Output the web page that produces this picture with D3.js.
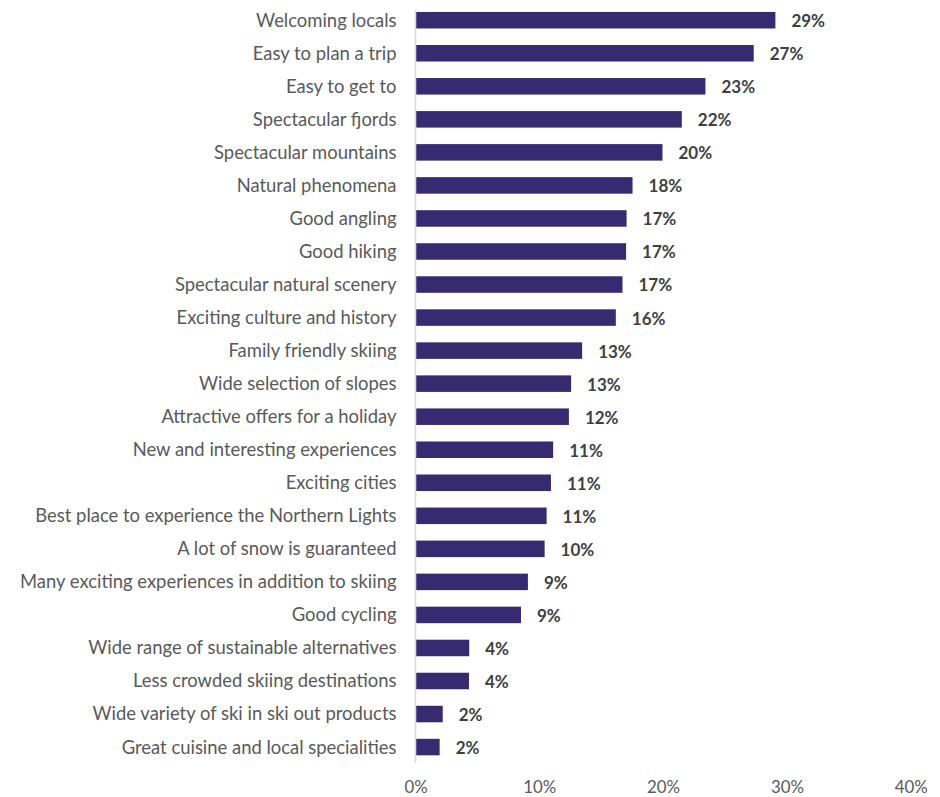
<!DOCTYPE html>
<html>
<head>
<meta charset="utf-8">
<script src="https://cdn.jsdelivr.net/npm/d3@7"></script>
<style>
  html, body { margin: 0; padding: 0; background: #ffffff; }
  svg { display: block; }
</style>
</head>
<body>
<svg id="chart" width="940" height="797"></svg>
<script>
const categories = [
  "Welcoming locals",
  "Easy to plan a trip",
  "Easy to get to",
  "Spectacular fjords",
  "Spectacular mountains",
  "Natural phenomena",
  "Good angling",
  "Good hiking",
  "Spectacular natural scenery",
  "Exciting culture and history",
  "Family friendly skiing",
  "Wide selection of slopes",
  "Attractive offers for a holiday",
  "New and interesting experiences",
  "Exciting cities",
  "Best place to experience the Northern Lights",
  "A lot of snow is guaranteed",
  "Many exciting experiences in addition to skiing",
  "Good cycling",
  "Wide range of sustainable alternatives",
  "Less crowded skiing destinations",
  "Wide variety of ski in ski out products",
  "Great cuisine and local specialities"
];
const values = [
  29.07, 27.32, 23.42, 21.51, 19.95, 17.53, 17.05, 17.01, 16.72, 16.18,
  13.46, 12.57, 12.39, 11.12, 10.94, 10.59, 10.43, 9.08, 8.52, 4.34,
  4.32, 2.20, 1.95
];
const xTicks = [0, 10, 20, 30, 40];

const FONT = "Lato, 'Open Sans', sans-serif";
const svg = d3.select("#chart");

// fit font sizes so text widths resemble the reference
function fitSize(text, weight, targetWidth) {
  const t = svg.append("text").attr("font-family", FONT).attr("font-weight", weight)
    .attr("font-size", 100).text(text);
  const w = t.node().getComputedTextLength();
  t.remove();
  return 100 * targetWidth / w;
}
const catSize = fitSize("Welcoming locals", 400, 140.5);
const valSize = fitSize("27%", 700, 33.7);
const tickSize = fitSize("20%", 400, 33);

const x0 = 415.5, x40 = 910.7;
const x = d3.scaleLinear().domain([0, 40]).range([x0, x40]);
const y = d3.scaleBand().domain(categories).range([3.7, 763.6]).paddingInner(0.5).paddingOuter(0.25);

// axis line (vertical, light gray)
svg.append("line")
  .attr("x1", x(0)).attr("x2", x(0))
  .attr("y1", 10).attr("y2", 763)
  .attr("stroke", "#d9d9d9").attr("stroke-width", 1.5);

// bars
svg.append("g").selectAll("rect").data(values).join("rect")
  .attr("x", x(0) + 0.75)
  .attr("y", (d, i) => y(categories[i]))
  .attr("width", d => x(d) - x(0) - 0.75)
  .attr("height", y.bandwidth())
  .attr("fill", "#362a71");

// category labels
svg.append("g").selectAll("text").data(categories).join("text")
  .attr("x", 396.5)
  .attr("y", d => y(d) + y.bandwidth() / 2)
  .attr("dy", "0.35em")
  .attr("text-anchor", "end")
  .attr("font-family", FONT)
  .attr("font-size", catSize)
  .attr("fill", "#595959")
  .text(d => d);

// value labels
svg.append("g").selectAll("text").data(values).join("text")
  .attr("x", d => x(d) + 16)
  .attr("y", (d, i) => y(categories[i]) + y.bandwidth() / 2 + 1)
  .attr("dy", "0.35em")
  .attr("font-family", FONT)
  .attr("font-weight", 700)
  .attr("font-size", valSize)
  .attr("fill", "#404040")
  .text(d => Math.round(d) + "%");

// x axis tick labels
const axis = d3.axisBottom(x).tickValues(xTicks).tickFormat(d => d + "%").tickSize(0).tickPadding(0);
const gx = svg.append("g").attr("transform", "translate(0,793)").call(axis);
gx.select(".domain").remove();
gx.selectAll("text")
  .attr("font-family", FONT)
  .attr("font-size", tickSize)
  .attr("fill", "#595959")
  .attr("y", 0)
  .attr("dy", 0);
</script>
</body>
</html>
